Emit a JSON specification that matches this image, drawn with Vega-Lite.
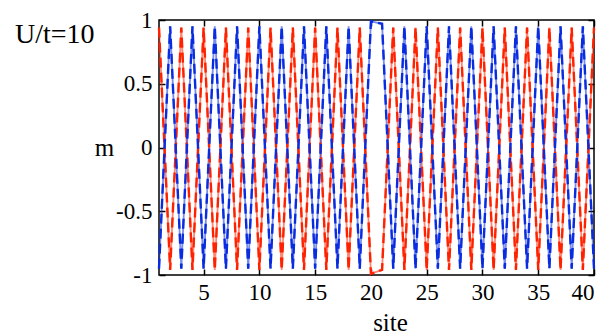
{
  "$schema": "https://vega.github.io/schema/vega-lite/v6.json",
  "width": 435,
  "height": 255,
  "autosize": {"type": "none"},
  "padding": {"left": 159, "top": 20, "right": 8, "bottom": 61},
  "background": "white",
  "title": {"text": "U/t=10", "anchor": "start", "frame": "group", "dx": -144, "dy": 62, "fontSize": 28, "font": "Liberation Serif", "fontWeight": "normal", "color": "black", "baseline": "alphabetic", "offset": 0},
  "config": {
    "font": "Liberation Serif",
    "view": {"stroke": "black", "strokeWidth": 1.5},
    "axis": {"grid": false, "domain": false, "labelFont": "Liberation Serif", "titleFont": "Liberation Serif", "labelFontSize": 23, "titleFontSize": 25, "titleFontWeight": "normal", "labelColor": "black", "titleColor": "black", "tickColor": "black", "tickWidth": 1.5, "tickSize": 6, "offset": -6}
  },
  "data": {"values": [
    {"site": 1, "m": 0.94, "s": "a"}, {"site": 2, "m": -0.96, "s": "a"}, {"site": 3, "m": 0.94, "s": "a"}, {"site": 4, "m": -0.96, "s": "a"},
    {"site": 5, "m": 0.94, "s": "a"}, {"site": 6, "m": -0.96, "s": "a"}, {"site": 7, "m": 0.94, "s": "a"}, {"site": 8, "m": -0.96, "s": "a"},
    {"site": 9, "m": 0.94, "s": "a"}, {"site": 10, "m": -0.96, "s": "a"}, {"site": 11, "m": 0.94, "s": "a"}, {"site": 12, "m": -0.96, "s": "a"},
    {"site": 13, "m": 0.94, "s": "a"}, {"site": 14, "m": -0.96, "s": "a"}, {"site": 15, "m": 0.94, "s": "a"}, {"site": 16, "m": -0.96, "s": "a"},
    {"site": 17, "m": 0.94, "s": "a"}, {"site": 18, "m": -0.96, "s": "a"}, {"site": 19, "m": 0.94, "s": "a"}, {"site": 20, "m": -0.99, "s": "a"},
    {"site": 21, "m": -0.96, "s": "a"}, {"site": 22, "m": 0.94, "s": "a"}, {"site": 23, "m": -0.96, "s": "a"}, {"site": 24, "m": 0.94, "s": "a"},
    {"site": 25, "m": -0.96, "s": "a"}, {"site": 26, "m": 0.94, "s": "a"}, {"site": 27, "m": -0.96, "s": "a"}, {"site": 28, "m": 0.94, "s": "a"},
    {"site": 29, "m": -0.96, "s": "a"}, {"site": 30, "m": 0.94, "s": "a"}, {"site": 31, "m": -0.96, "s": "a"}, {"site": 32, "m": 0.94, "s": "a"},
    {"site": 33, "m": -0.96, "s": "a"}, {"site": 34, "m": 0.94, "s": "a"}, {"site": 35, "m": -0.96, "s": "a"}, {"site": 36, "m": 0.94, "s": "a"},
    {"site": 37, "m": -0.96, "s": "a"}, {"site": 38, "m": 0.94, "s": "a"}, {"site": 39, "m": -0.96, "s": "a"}, {"site": 40, "m": 0.94, "s": "a"},
    {"site": 1, "m": -0.95, "s": "b"}, {"site": 2, "m": 0.95, "s": "b"}, {"site": 3, "m": -0.95, "s": "b"}, {"site": 4, "m": 0.95, "s": "b"},
    {"site": 5, "m": -0.95, "s": "b"}, {"site": 6, "m": 0.95, "s": "b"}, {"site": 7, "m": -0.95, "s": "b"}, {"site": 8, "m": 0.95, "s": "b"},
    {"site": 9, "m": -0.95, "s": "b"}, {"site": 10, "m": 0.95, "s": "b"}, {"site": 11, "m": -0.95, "s": "b"}, {"site": 12, "m": 0.95, "s": "b"},
    {"site": 13, "m": -0.95, "s": "b"}, {"site": 14, "m": 0.95, "s": "b"}, {"site": 15, "m": -0.95, "s": "b"}, {"site": 16, "m": 0.95, "s": "b"},
    {"site": 17, "m": -0.95, "s": "b"}, {"site": 18, "m": 0.95, "s": "b"}, {"site": 19, "m": -0.95, "s": "b"}, {"site": 20, "m": 0.99, "s": "b"},
    {"site": 21, "m": 0.97, "s": "b"}, {"site": 22, "m": -0.95, "s": "b"}, {"site": 23, "m": 0.95, "s": "b"}, {"site": 24, "m": -0.95, "s": "b"},
    {"site": 25, "m": 0.95, "s": "b"}, {"site": 26, "m": -0.95, "s": "b"}, {"site": 27, "m": 0.95, "s": "b"}, {"site": 28, "m": -0.95, "s": "b"},
    {"site": 29, "m": 0.95, "s": "b"}, {"site": 30, "m": -0.95, "s": "b"}, {"site": 31, "m": 0.95, "s": "b"}, {"site": 32, "m": -0.95, "s": "b"},
    {"site": 33, "m": 0.95, "s": "b"}, {"site": 34, "m": -0.95, "s": "b"}, {"site": 35, "m": 0.95, "s": "b"}, {"site": 36, "m": -0.95, "s": "b"},
    {"site": 37, "m": 0.95, "s": "b"}, {"site": 38, "m": -0.95, "s": "b"}, {"site": 39, "m": 0.95, "s": "b"}, {"site": 40, "m": -0.95, "s": "b"}
  ]},
  "layer": [
    {
      "mark": {"type": "line", "strokeWidth": 1.8, "opacity": 0.55},
      "encoding": {
        "x": {"field": "site", "type": "quantitative", "scale": {"domain": [1, 40], "nice": false, "zero": false},
              "axis": {"orient": "bottom", "values": [5, 10, 15, 20, 25, 30, 35, 40], "labelPadding": 6, "title": "site", "titleX": 231, "titleY": 61, "titleBaseline": "alphabetic"}},
        "y": {"field": "m", "type": "quantitative", "scale": {"domain": [-1, 1], "nice": false},
              "axis": {"orient": "left", "values": [-1, -0.5, 0, 0.5, 1], "labelExpr": "datum.value + ''", "labelPadding": 7, "title": "m", "titleAngle": 0, "titleX": -61, "titleY": 127.5, "titleAlign": "center", "titleBaseline": "middle"}},
        "color": {"field": "s", "type": "nominal", "scale": {"domain": ["a", "b"], "range": ["#ff2200", "#0a2ce0"]}, "legend": null},
        "order": {"field": "site", "type": "quantitative"}
      }
    },
    {
      "mark": {"type": "line", "strokeWidth": 2.4, "strokeDash": [10, 5]},
      "encoding": {
        "x": {"field": "site", "type": "quantitative",
              "axis": {"orient": "top", "values": [5, 10, 15, 20, 25, 30, 35, 40], "labels": false, "title": null}},
        "y": {"field": "m", "type": "quantitative",
              "axis": {"orient": "right", "values": [-1, -0.5, 0, 0.5, 1], "labels": false, "title": null}},
        "color": {"field": "s", "type": "nominal", "legend": null},
        "order": {"field": "site", "type": "quantitative"}
      }
    }
  ],
  "resolve": {"axis": {"x": "independent", "y": "independent"}}
}
